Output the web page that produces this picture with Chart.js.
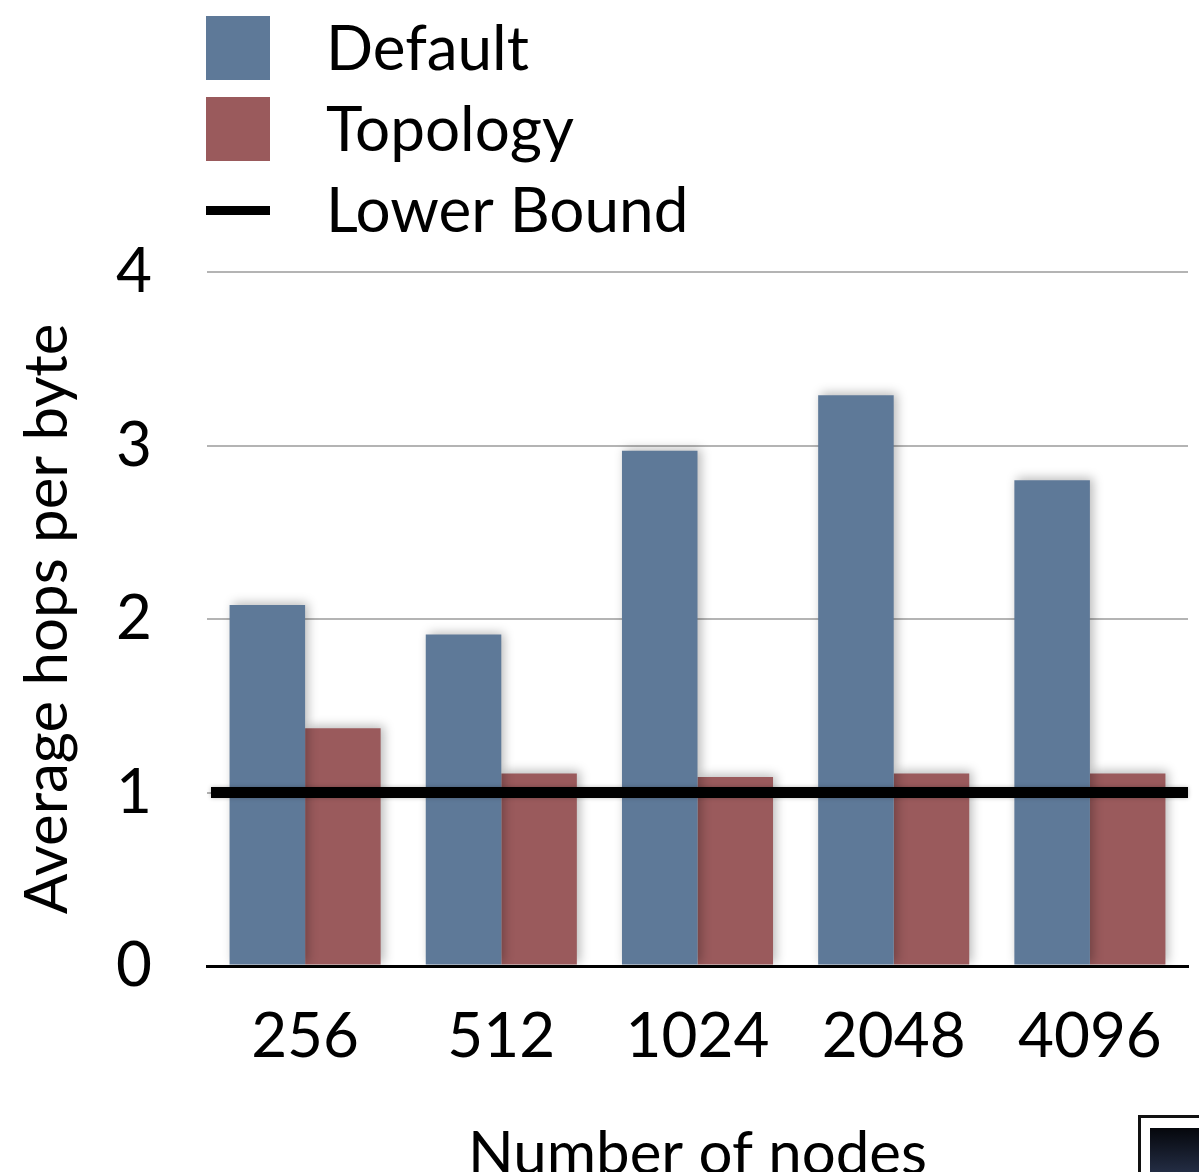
<!DOCTYPE html>
<html>
<head>
<meta charset="utf-8">
<title>Average hops per byte</title>
<script src="https://cdn.jsdelivr.net/npm/chart.js@4/dist/chart.umd.min.js"></script>
<style>
  html, body { margin: 0; padding: 0; background: #fff; overflow: hidden; }
  #wrap { position: relative; width: 1199px; height: 1172px; }
  #logo { position: absolute; left: 1138px; top: 1115px; width: 70px; height: 70px;
          border: 3px solid #111; box-sizing: border-box; background: #fff; }
  #logo div { position: absolute; left: 9px; top: 10px; right: 0; bottom: 0;
              background: linear-gradient(#05070c, #2a3550); }
</style>
</head>
<body>
<div id="wrap">
  <canvas id="chart" width="1199" height="1172"></canvas>
  <div id="logo"><div></div></div>
</div>
<script>
// Number of nodes on the x axis
const nodeCounts = ['256', '512', '1024', '2048', '4096'];
// Average hops per byte for each mapping strategy
const defaultHops  = [2.08, 1.91, 2.97, 3.29, 2.80];
const topologyHops = [1.37, 1.11, 1.09, 1.11, 1.11];
// Theoretical lower bound (constant)
const lowerBound = 1;
const lowerBoundLabel = 'Lower Bound';
// y axis tick values
const yTicks = [0, 1, 2, 3, 4];

const FONT = 'Lato, "Open Sans", sans-serif';
const BLUE = '#5e7998';
const RED  = '#9a5a5c';
const LINE_COLOR = '#000';

// Soft drop shadow under the bars
const barShadow = {
  id: 'barShadow',
  beforeDatasetDraw(chart) {
    const ctx = chart.ctx;
    ctx.save();
    ctx.shadowColor = 'rgba(0,0,0,0.28)';
    ctx.shadowBlur = 10;
    ctx.shadowOffsetX = 3;
    ctx.shadowOffsetY = -2;
  },
  afterDatasetDraw(chart) {
    chart.ctx.restore();
  }
};

// Horizontal lower-bound line across the whole plot, placed by the y scale
const lowerBoundLine = {
  id: 'lowerBoundLine',
  afterDatasetsDraw(chart) {
    const { ctx, chartArea, scales } = chart;
    const y = scales.y.getPixelForValue(lowerBound);
    ctx.save();
    ctx.shadowColor = 'rgba(0,0,0,0.25)';
    ctx.shadowBlur = 4;
    ctx.strokeStyle = LINE_COLOR;
    ctx.lineWidth = 11;
    ctx.lineCap = 'butt';
    ctx.beginPath();
    ctx.moveTo(chartArea.left + 4, y);
    ctx.lineTo(chartArea.right, y);
    ctx.stroke();
    ctx.restore();
  }
};

// Stacked legend in the top-left corner
const stackedLegend = {
  id: 'stackedLegend',
  afterDraw(chart) {
    const ctx = chart.ctx;
    const x0 = 206, sw = 64, textX = 326;
    const rows = [48, 129, 210];
    const items = chart.data.datasets.map(ds => ({ label: ds.label, color: ds.backgroundColor, line: false }))
      .concat([{ label: lowerBoundLabel, color: LINE_COLOR, line: true }]);
    ctx.save();
    ctx.font = '62px ' + FONT;
    ctx.textBaseline = 'middle';
    items.forEach((it, i) => {
      const cy = rows[i];
      ctx.fillStyle = it.color;
      if (it.line) ctx.fillRect(x0, cy - 4, sw, 9);
      else ctx.fillRect(x0, cy - 32, sw, 64);
      ctx.fillStyle = '#000';
      ctx.fillText(it.label, textX, cy + 2);
    });
    ctx.restore();
  }
};

new Chart(document.getElementById('chart'), {
  type: 'bar',
  data: {
    labels: nodeCounts,
    datasets: [
      { label: 'Default', data: defaultHops, backgroundColor: BLUE },
      { label: 'Topology', data: topologyHops, backgroundColor: RED }
    ]
  },
  options: {
    responsive: false,
    animation: false,
    layout: { padding: { top: 272, right: 11, left: 0, bottom: 0 } },
    plugins: { legend: { display: false }, tooltip: { enabled: false } },
    datasets: { bar: { categoryPercentage: 0.77, barPercentage: 1.0 } },
    scales: {
      x: {
        grid: { display: false, drawTicks: false },
        border: { display: true, color: '#000', width: 3 },
        ticks: { color: '#000', padding: 34, font: { family: FONT, size: 62 } },
        title: {
          display: true, text: 'Number of nodes', color: '#000',
          font: { family: FONT, size: 60, lineHeight: 1 },
          padding: { top: 0, bottom: -13 }
        },
        afterFit(scale) { scale.height = 206; }
      },
      y: {
        min: 0, max: 4,
        afterBuildTicks(scale) { scale.ticks = yTicks.map(v => ({ value: v })); },
        grid: {
          drawTicks: false,
          color: c => c.tick && c.tick.value === 0 ? '#000' : '#b4b4b4',
          lineWidth: c => c.tick && c.tick.value === 0 ? 3 : 2
        },
        border: { display: false },
        ticks: { color: '#000', padding: 55, font: { family: FONT, size: 62 } },
        title: {
          display: true, text: 'Average hops per byte', color: '#000',
          font: { family: FONT, size: 60, lineHeight: 1 },
          padding: { top: 18, bottom: 0 }
        },
        afterFit(scale) { scale.width = 207; }
      }
    }
  },
  plugins: [barShadow, lowerBoundLine, stackedLegend]
});
</script>
</body>
</html>
